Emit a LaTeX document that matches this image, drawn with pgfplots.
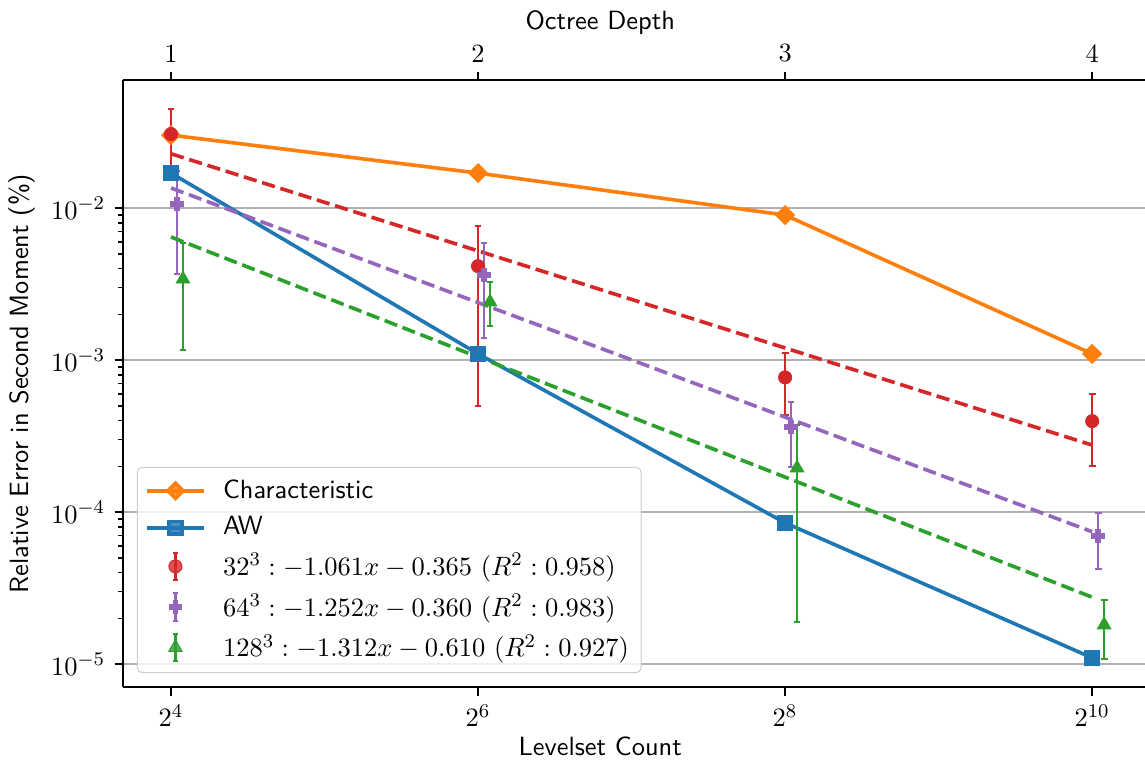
\documentclass[border=0pt]{standalone}
\usepackage{pgfplots}
\pgfplotsset{compat=1.18}
\usepackage{pgfplotstable}

\definecolor{tabblue}{HTML}{1F77B4}
\definecolor{taborange}{HTML}{FF7F0E}
\definecolor{tabgreen}{HTML}{2CA02C}
\definecolor{tabred}{HTML}{D62728}
\definecolor{tabpurple}{HTML}{9467BD}
\definecolor{gridgray}{HTML}{B0B0B0}

% x  y  plus  minus
\pgfplotstableread{
x y ep em
16 0.0307 0.0141 0.0142
64 0.00415 0.0035 0.00365
256 0.00077 0.00034 0.000336
1024 0.000397 0.0002 0.000196
}\redpts
\pgfplotstableread{
x y ep em
16.44 0.0106 0.0069 0.0069
65.75 0.00362 0.00226 0.00222
263.0 0.000362 0.000168 0.000164
1052.1 6.95e-5 2.9e-5 2.74e-5
}\purplepts
\pgfplotstableread{
x y ep em
16.89 0.00341 0.00247 0.00225
67.55 0.00241 0.00085 0.00073
270.2 0.000195 0.000178 0.000176
1080.8 1.81e-5 8.3e-6 7.3e-6
}\greenpts

\pgfplotsset{
  errseries/.style={
    only marks,
    error bars/.cd, y dir=both, y explicit,
    error bar style={line width=0.9pt},
    error mark options={rotate=90, mark size=1.4pt, line width=0.9pt},
    /pgfplots/.cd,
    legend image code/.code={
      \draw[##1, line width=0.9pt, solid] (0.42cm,-0.2cm) -- (0.42cm,0.2cm);
      \draw[##1, line width=0.9pt, solid] (0.38cm,-0.2cm) -- (0.46cm,-0.2cm);
      \draw[##1, line width=0.9pt, solid] (0.38cm,0.2cm) -- (0.46cm,0.2cm);
      \draw[mark repeat=2,mark phase=2,##1] plot coordinates {(0cm,0cm)(0.42cm,0cm)(0.84cm,0cm)};
    },
  },
  fitline/.style={line width=1.5pt, dash pattern=on 5.5pt off 2.4pt, forget plot},
}

\begin{document}
\fontsize{10.9}{13}\selectfont
\begin{tikzpicture}
\begin{axis}[
  name=main,
  scale only axis, width=422.3pt, height=250.8pt,
  xmode=log, ymode=log, log basis x=2,
  xmin=12.88, xmax=1300,
  ymin=7.06e-6, ymax=0.0695,
  axis x line*=box, axis y line*=left,
  xtick={16,64,256,1024}, xtick pos=left, xminorticks=false,
  ytick={1e-5,1e-4,1e-3,1e-2}, ytick pos=left,
  ymajorgrids, major grid style={gridgray, line width=0.8pt},
  tick align=outside,
  major tick length=3.5pt, minor tick length=2pt,
  every tick/.style={black, line width=0.8pt},
  minor tick style={line width=0.6pt},
  axis line style={line width=0.8pt},
  xlabel={\sffamily Levelset Count},
  xlabel style={at={(axis description cs:0.467,-0.097)}, anchor=center},
  ylabel={\sffamily Relative Error in Second Moment (\%)},
  ylabel style={at={(axis description cs:-0.099,0.5)}, anchor=center, rotate=0},
  legend style={at={(0.0137,0.023)}, anchor=south west, draw=black!20,
    rounded corners=2pt, fill=white, fill opacity=0.8, text opacity=1,
    font=\sffamily, row sep=2pt, inner sep=3pt,
    /tikz/every odd column/.append style={column sep=5pt}},
  legend cell align=left,
  legend image code/.code={
    \draw[mark repeat=2,mark phase=2,#1] plot coordinates {(0cm,0cm)(0.42cm,0cm)(0.84cm,0cm)};
  },
]
\addplot[taborange, line width=1.5pt, mark=square*, mark size=2.2pt, mark options={rotate=45}]
  coordinates {(16,0.0302) (64,0.0170) (256,0.0090) (1024,0.0011)};
\addlegendentry{Characteristic}
\addplot[tabblue, line width=1.5pt, mark=square*, mark size=2.6pt]
  coordinates {(16,0.0170) (64,0.0011) (256,8.5e-5) (1024,1.1e-5)};
\addlegendentry{AW}

\addplot[tabred, mark=*, mark size=2.7pt, errseries]
  table[x=x, y=y, y error plus=ep, y error minus=em] {\redpts};
\addlegendentry{$32^3: -1.061x - 0.365\ (R^2: 0.958)$}
\addplot[tabred, fitline] coordinates {(16,2.278e-2) (64,5.232e-3) (256,1.202e-3) (1024,2.761e-4)};

\addplot[tabpurple, mark=+, mark size=2.8pt, mark options={line width=2.3pt}, errseries]
  table[x=x, y=y, y error plus=ep, y error minus=em] {\purplepts};
\addlegendentry{$64^3: -1.252x - 0.360\ (R^2: 0.983)$}
\addplot[tabpurple, fitline] coordinates {(16,1.357e-2) (64,2.391e-3) (256,4.215e-4) (1024,7.43e-5)};

\addplot[tabgreen, mark=triangle*, mark size=3.2pt, errseries]
  table[x=x, y=y, y error plus=ep, y error minus=em] {\greenpts};
\addlegendentry{$128^3: -1.312x - 0.610\ (R^2: 0.927)$}
\addplot[tabgreen, fitline] coordinates {(16,6.459e-3) (64,1.048e-3) (256,1.700e-4) (1024,2.757e-5)};
\end{axis}

\begin{axis}[
  scale only axis, width=422.3pt, height=250.8pt,
  xmode=log, log basis x=2,
  xmin=12.88, xmax=1300, ymin=0, ymax=1,
  axis x line*=top, axis y line=none,
  xtick={16,64,256,1024}, xticklabels={1,2,3,4}, xminorticks=false,
  tick align=outside, major tick length=3.5pt,
  every tick/.style={black, line width=0.8pt},
  axis line style={line width=0.8pt},
  xlabel={\sffamily Octree Depth},
  xlabel style={at={(axis description cs:0.467,1.095)}, anchor=center},
]
\end{axis}

\pgfresetboundingbox
\path[use as bounding box] ([shift={(-50.8pt,-31pt)}]main.south west) rectangle ([shift={(0pt,33.1pt)}]main.north east);
\end{tikzpicture}
\end{document}
